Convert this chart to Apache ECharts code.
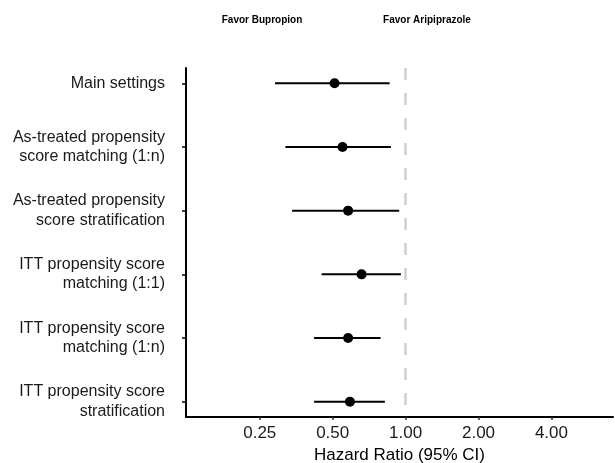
<!DOCTYPE html>
<html>
<head>
<meta charset="utf-8">
<script src="https://cdn.jsdelivr.net/npm/echarts@6/dist/echarts.min.js"></script>
<style>html,body{margin:0;padding:0;background:#fff}#c{width:615px;height:463px}</style>
</head>
<body>
<div id="c"></div>
<script>
const categories = [
  'Main settings',
  'As-treated propensity\nscore matching (1:n)',
  'As-treated propensity\nscore stratification',
  'ITT propensity score\nmatching (1:1)',
  'ITT propensity score\nmatching (1:n)',
  'ITT propensity score\nstratification'
];
const hazardRatio = [0.509, 0.549, 0.579, 0.658, 0.579, 0.589];
const ciLower = [0.289, 0.319, 0.340, 0.450, 0.419, 0.419];
const ciUpper = [0.859, 0.870, 0.941, 0.956, 0.788, 0.821];
const xTickLabels = [0.25, 0.5, 1, 2, 4];
const referenceLine = 1;

const rowPos = categories.map((c, i) => i + 1);
const font = "'Liberation Sans', Arial, sans-serif";

const chart = echarts.init(document.getElementById('c'), null, {renderer: 'canvas'});
chart.setOption({
  animation: false,
  backgroundColor: '#fff',
  grid: {left: 186, right: 2, top: 68, bottom: 46, containLabel: false, outerBoundsMode: 'none'},
  xAxis: {
    type: 'log',
    logBase: 2,
    min: 0.124,
    max: 7.18,
    splitLine: {show: false},
    axisLine: {show: true, lineStyle: {color: '#000', width: 2}},
    axisTick: {show: true, customValues: xTickLabels, length: 3, lineStyle: {color: '#333', width: 1.5}},
    axisLabel: {
      customValues: xTickLabels,
      formatter: v => Number(v).toFixed(2),
      fontSize: 17, color: '#1a1a1a', fontFamily: font, margin: 8
    },
    name: 'Hazard Ratio (95% CI)',
    nameLocation: 'middle',
    nameGap: 24,
    nameTextStyle: {fontSize: 17, color: '#000', fontFamily: font}
  },
  yAxis: {
    type: 'value',
    inverse: true,
    min: 0.76,
    max: 6.24,
    splitLine: {show: false},
    axisLine: {show: true, lineStyle: {color: '#000', width: 2}},
    axisTick: {show: true, customValues: rowPos, length: 4, lineStyle: {color: '#000', width: 1.5}},
    axisLabel: {
      customValues: rowPos,
      formatter: v => categories[Math.round(v) - 1] || '',
      fontSize: 16, lineHeight: 19.5, color: '#1a1a1a', fontFamily: font, margin: 21, align: 'right'
    }
  },
  graphic: [
    {type: 'text', x: 262, y: 20, style: {text: 'Favor Bupropion', font: 'bold 10px ' + font, fill: '#000', textAlign: 'center', textVerticalAlign: 'middle'}},
    {type: 'text', x: 427, y: 20, style: {text: 'Favor Aripiprazole', font: 'bold 10px ' + font, fill: '#000', textAlign: 'center', textVerticalAlign: 'middle'}}
  ],
  series: [
    {
      type: 'custom',
      data: rowPos.map((p, i) => [ciLower[i], ciUpper[i], p]),
      encode: {x: [0, 1], y: 2},
      renderItem: (params, api) => {
        const a = api.coord([api.value(0), api.value(2)]);
        const b = api.coord([api.value(1), api.value(2)]);
        return {type: 'line', shape: {x1: a[0], y1: a[1], x2: b[0], y2: b[1]}, style: {stroke: '#000', lineWidth: 2}};
      },
      z: 2
    },
    {
      type: 'scatter',
      data: rowPos.map((p, i) => [hazardRatio[i], p]),
      symbol: 'circle',
      symbolSize: 10,
      itemStyle: {color: '#000', opacity: 1},
      z: 3,
      markLine: {
        silent: true,
        symbol: 'none',
        label: {show: false},
        lineStyle: {type: [12, 13], color: '#d0d0d0', width: 2.5, opacity: 1},
        data: [{xAxis: referenceLine}]
      }
    }
  ]
});
</script>
</body>
</html>
